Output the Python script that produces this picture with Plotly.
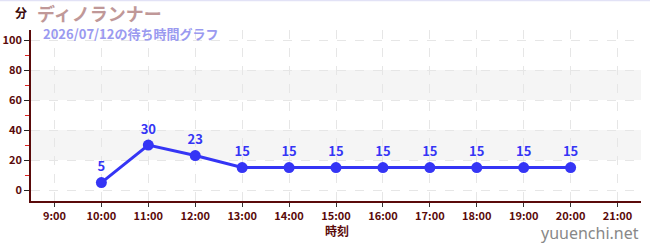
import plotly.graph_objects as go

hours = [10, 11, 12, 13, 14, 15, 16, 17, 18, 19, 20]
waits = [5, 30, 23, 15, 15, 15, 15, 15, 15, 15, 15]
tick_hours = list(range(9, 22))
tick_labels = [f"{h}:00" for h in tick_hours]
y_ticks = [0, 20, 40, 60, 80, 100]
bands = [(20, 40), (60, 80)]

title = "ディノランナー"
subtitle = "2026/07/12の待ち時間グラフ"
unit = "分"
xlabel = "時刻"
brand = "yuuenchi.net"

JP = "Noto Sans CJK JP"
axis_col = "#5a0a0a"
line_col = "#3535f5"

fig = go.Figure()
fig.add_trace(go.Scatter(
    x=hours, y=waits, mode="lines+markers+text",
    line=dict(color=line_col, width=3),
    marker=dict(color=line_col, size=11),
    text=[str(v) for v in waits], textposition="top center",
    textfont=dict(family=JP, size=13, color=line_col, weight="bold"),
    cliponaxis=False, hoverinfo="skip",
))

shapes = []
for lo, hi in bands:
    shapes.append(dict(type="rect", xref="paper", x0=0, x1=1, yref="y", y0=lo, y1=hi,
                       fillcolor="#f5f5f5", line=dict(width=0), layer="below"))
shapes.append(dict(type="line", xref="paper", yref="paper", x0=-0.06, x1=1.02, y0=1.1725, y1=1.1725,
                   line=dict(color="#e2e2f6", width=1.5)))

fig.update_layout(
    width=650, height=250,
    margin=dict(l=31, r=9, t=30, b=49, autoexpand=False),
    paper_bgcolor="white", plot_bgcolor="white",
    showlegend=False,
    shapes=shapes,
    font=dict(family=JP, color=axis_col),
    xaxis=dict(
        range=[8.5, 21.5], tickvals=tick_hours, ticktext=tick_labels,
        showline=True, linecolor=axis_col, linewidth=1.5, automargin=False,
        ticks="outside", ticklen=4, tickcolor="#333333",
        tickfont=dict(family=JP, size=11, color=axis_col, weight="bold"),
        showgrid=True, gridcolor="#e6e6e6", griddash="dash", zeroline=False,
    ),
    yaxis=dict(
        range=[-7.3, 106.7], tickvals=y_ticks, automargin=False,
        showline=True, linecolor=axis_col, linewidth=1.5,
        ticks="outside", ticklen=5, tickcolor="#222222",
        tickfont=dict(family=JP, size=11, color=axis_col, weight="bold"),
        showgrid=True, gridcolor="#e6e6e6", griddash="dash", zeroline=False,
        minor=dict(ticks="outside", ticklen=4, tickcolor="#dd2222", dtick=10, tick0=10, showgrid=False),
    ),
    annotations=[
        dict(text=unit, xref="paper", yref="paper", x=-0.0164, y=1.1, xanchor="center", yanchor="middle",
             showarrow=False, font=dict(family=JP, size=12, color="#3a0a0a", weight="bold")),
        dict(text=title, xref="paper", yref="paper", x=0.0066, y=1.1, xanchor="left", yanchor="middle",
             showarrow=False, font=dict(family=JP, size=18, color="#c09898", weight="bold")),
        dict(text=subtitle, xref="paper", yref="paper", x=0.0164, y=0.978, xanchor="left", yanchor="middle",
             showarrow=False, font=dict(family=JP, size=13, color="#9a9af0", weight="bold")),
        dict(text=xlabel, xref="paper", yref="paper", x=0.502, y=-0.17, xanchor="center", yanchor="middle",
             showarrow=False, font=dict(family=JP, size=12, color=axis_col, weight="bold")),
        dict(text=brand, xref="paper", yref="paper", x=1.0, y=-0.19, xanchor="right", yanchor="middle",
             showarrow=False, font=dict(family="Noto Sans", size=16, color="#888888")),
    ],
)

fig.write_html("out.html")
